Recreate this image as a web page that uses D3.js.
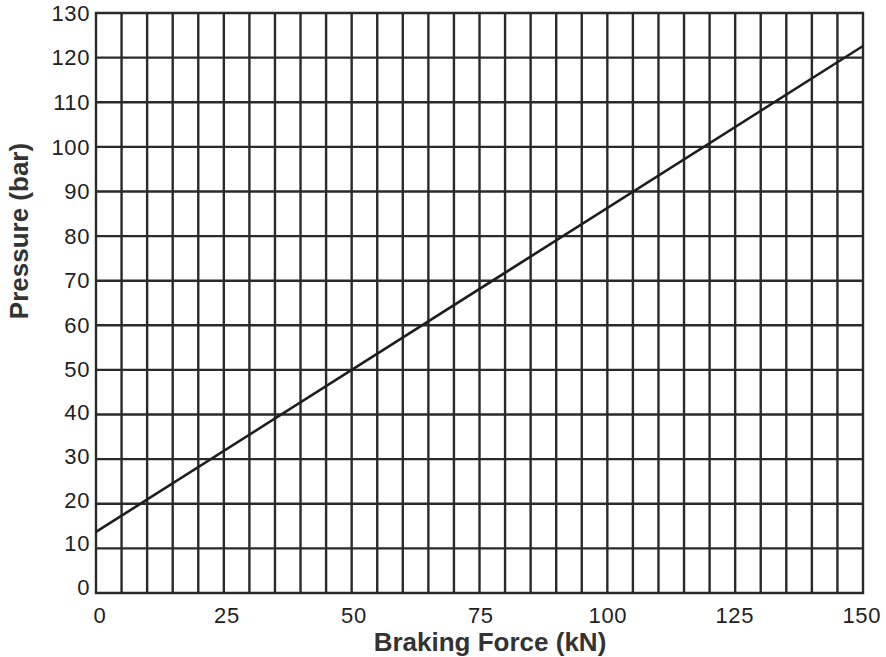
<!DOCTYPE html>
<html><head><meta charset="utf-8">
<script src="https://cdn.jsdelivr.net/npm/d3@7"></script>
<style>body{margin:0;background:#fff}svg{display:block}</style>
</head><body><svg id="c" width="886" height="657"></svg>
<script>
const xTicks = [0, 25, 50, 75, 100, 125, 150];
const yTicks = [0, 10, 20, 30, 40, 50, 60, 70, 80, 90, 100, 110, 120, 130];
const xGrid = d3.range(0, 151, 5);
const lineX = [0, 150];
const lineY = [13.7, 122.6];

const svg = d3.select("#c");
const m = {l: 96, r: 863, t: 13, b: 593};
const x = d3.scaleLinear().domain([0, 150]).range([m.l, m.r]);
const y = d3.scaleLinear().domain([0, 130]).range([m.b, m.t]);
const FONT = "Liberation Sans, Arial, Helvetica, sans-serif";

const g = svg.append("g");
g.selectAll(".vg").data(xGrid).enter().append("line")
  .attr("x1", d => x(d)).attr("x2", d => x(d))
  .attr("y1", m.t - 1).attr("y2", m.b + 1)
  .attr("stroke", "#2a2a2a").attr("stroke-width", 2.4);
g.selectAll(".hg").data(yTicks).enter().append("line")
  .attr("x1", m.l - 1).attr("x2", m.r + 1)
  .attr("y1", d => y(d)).attr("y2", d => y(d))
  .attr("stroke", "#2a2a2a").attr("stroke-width", 2.4);

const pts = lineX.map((v, i) => [v, lineY[i]]);
g.append("path").datum(pts)
  .attr("d", d3.line().x(d => x(d[0])).y(d => y(d[1])))
  .attr("fill", "none").attr("stroke", "#1e1e1e").attr("stroke-width", 2.6);

svg.selectAll(".xt").data(xTicks).enter().append("text")
  .attr("x", d => x(d) + 4 - d * 0.035).attr("y", 623)
  .attr("text-anchor", "middle")
  .attr("font-family", FONT).attr("letter-spacing", 0.6)
  .attr("font-size", 22).attr("fill", "#222").text(d => d);

svg.selectAll(".yt").data(yTicks).enter().append("text")
  .attr("x", 90).attr("y", d => y(d) + 7.8 - (d < 60 ? (60 - d) * 0.1 : 0))
  .attr("text-anchor", "end")
  .attr("font-family", FONT).attr("letter-spacing", 0.6)
  .attr("font-size", 22).attr("fill", "#222").text(d => d);

svg.append("text")
  .attr("x", 490).attr("y", 651)
  .attr("text-anchor", "middle")
  .attr("font-family", FONT)
  .attr("font-weight", "bold").attr("font-size", 26).attr("fill", "#333")
  .text("Braking Force (kN)");

svg.append("text")
  .attr("transform", "translate(28,231) rotate(-90)")
  .attr("text-anchor", "middle")
  .attr("font-family", FONT)
  .attr("font-weight", "bold").attr("font-size", 26).attr("fill", "#333")
  .text("Pressure (bar)");
</script></body></html>
